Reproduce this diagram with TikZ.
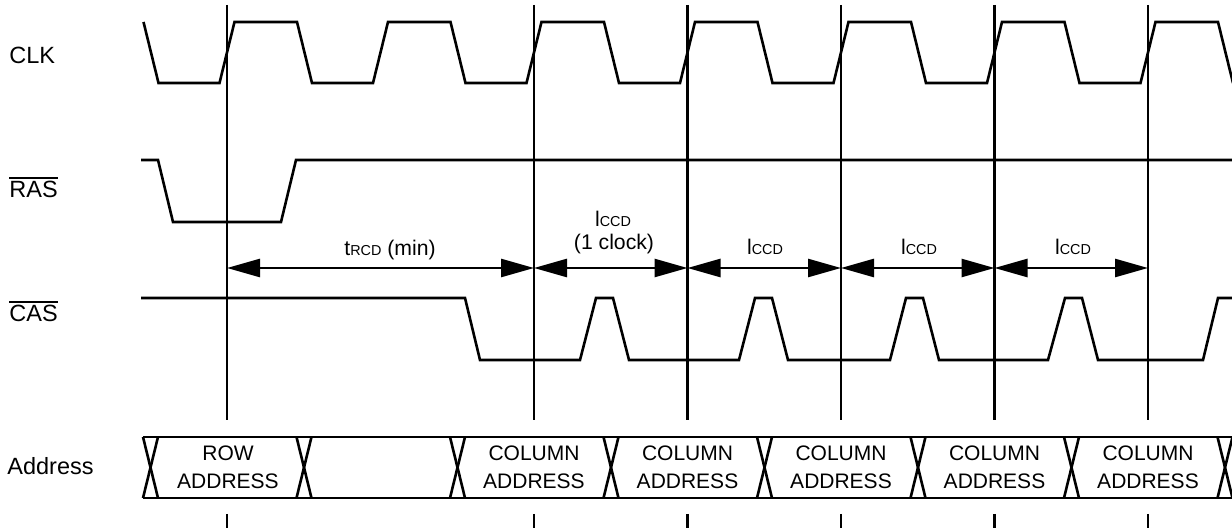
\documentclass[tikz,border=0pt]{standalone}
\usepackage{fontspec}
\setmainfont{Liberation Sans}
\usetikzlibrary{arrows.meta}
\newcommand\sbc[1]{{\fontsize{7.2pt}{8pt}\selectfont #1}}
\begin{document}
\begin{tikzpicture}[x=0.5pt,y=-0.5pt,
  wave/.style={line width=1.3pt, line join=miter},
  gridln/.style={line width=1.3pt},
  dimln/.style={line width=1.3pt, {Triangle[length=16.5pt,width=9pt]}-{Triangle[length=16.5pt,width=9pt]}},
  sig/.style={font=\fontsize{11.75pt}{14pt}\selectfont, anchor=base west, inner sep=0pt},
  lbl/.style={font=\fontsize{10.6pt}{12pt}\selectfont, anchor=base, inner sep=0pt},
  bustxt/.style={font=\fontsize{10.5pt}{14pt}\selectfont, align=center, inner sep=0pt},
  ovl/.style={line width=1pt}
]
\useasboundingbox (0,0) rectangle (1232,528);

% signal names
\node[sig] (clk) at (9,64) {CLK};
\node[sig] (ras) at (9,198) {RAS};
\node[sig] (cas) at (9,322) {CAS};
\node[sig] (addr) at (7,475) {Address};
\draw[ovl] ([yshift=1.6pt]ras.north west) -- ([yshift=1.6pt]ras.north east);
\draw[ovl] ([yshift=1.6pt]cas.north west) -- ([yshift=1.6pt]cas.north east);

% reference lines
\foreach \x [count=\i] in {227,534,687.5,841,994.5,1148} {
  \coordinate (t\i) at (\x,5);
  \coordinate (b\i) at (\x,420);
  \coordinate (u\i) at (\x,514);
  \coordinate (v\i) at (\x,528);
  \draw[gridln] (t\i) -- (b\i);
  \draw[gridln] (u\i) -- (v\i);
}

% CLK
\draw[wave] (143.5,22) -- (158.5,83)
  \foreach \k in {0,...,6} {
    -- ({219.5+\k*153.5},83) -- ({234.5+\k*153.5},22)
    -- ({297+\k*153.5},22) -- ({312+\k*153.5},83)
  };

% RAS
\draw[wave] (141,160) -- (158,160) -- (173,222) -- (281,222) -- (296,160) -- (1232,160);

% CAS
\draw[wave] (141,298) -- (465,298) -- (480,360)
  -- (580,360) -- (596,298) -- (613,298) -- (629,360)
  -- (739,360) -- (755,298) -- (772,298) -- (788,360)
  -- (890,360) -- (906,298) -- (923,298) -- (939,360)
  -- (1048,360) -- (1065,298) -- (1082,298) -- (1098,360)
  -- (1203,360) -- (1218,298) -- (1232,298);

% timing arrows
\coordinate (d1) at (227,268);
\coordinate (d2) at (534,268);
\coordinate (d3) at (687.5,268);
\coordinate (d4) at (841,268);
\coordinate (d5) at (994.5,268);
\coordinate (d6) at (1148,268);
\draw[dimln] (d1) -- (d2);
\draw[dimln] (d2) -- (d3);
\draw[dimln] (d3) -- (d4);
\draw[dimln] (d4) -- (d5);
\draw[dimln] (d5) -- (d6);

\node[lbl] (trcd) at (390,256) {t\sbc{RCD} (min)};
\node[lbl] (ccd1) at (613,227) {l\sbc{CCD}};
\node[lbl] (clk1) at (614,250) {(1 clock)};
\node[lbl] (ccd2) at (765,255) {l\sbc{CCD}};
\node[lbl] (ccd3) at (919,255) {l\sbc{CCD}};
\node[lbl] (ccd4) at (1073,255) {l\sbc{CCD}};

% Address bus
\draw[wave] (143,437) -- (1232,437);
\draw[wave] (143,498) -- (1232,498);
\foreach \k in {0,...,7} {
  \draw[wave] ({143+\k*153.5},437) -- ({158+\k*153.5},498);
  \draw[wave] ({143+\k*153.5},498) -- ({158+\k*153.5},437);
}
\node[bustxt] (row) at (228,467.5) {ROW\\ADDRESS};
\foreach \x [count=\i] in {534,687.5,841,994.5,1148} {
  \node[bustxt] (col\i) at (\x,467.5) {COLUMN\\ADDRESS};
}
\end{tikzpicture}
\end{document}
